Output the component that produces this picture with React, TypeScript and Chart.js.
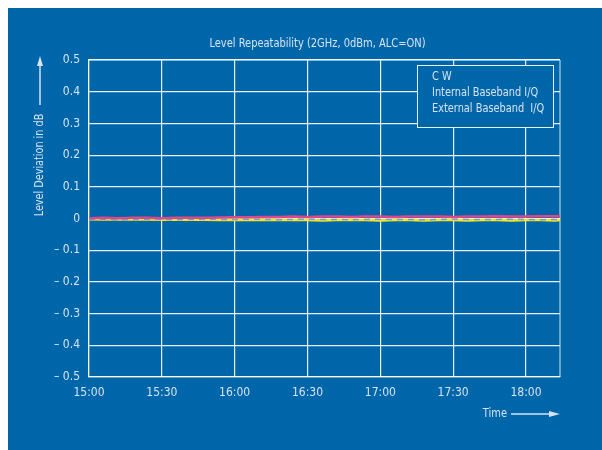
import React, { useEffect, useRef } from "react";
import { Chart, registerables } from "chart.js";

Chart.register(...registerables);

const TITLE = "Level Repeatability (2GHz, 0dBm, ALC=ON)";
const Y_TITLE = "Level Deviation in dB";
const X_TITLE = "Time";
const SERIES_LABELS = ["C W", "Internal Baseband I/Q", "External Baseband  I/Q"];

// minutes after 15:00
const TIMES = [0, 6, 12, 18, 24, 30, 36, 42, 48, 54, 60, 66, 72, 78, 84, 90, 96, 102, 108, 114, 120, 126, 132, 138, 144, 150, 156, 162, 168, 174, 180, 186, 192, 194];
const CW = [0.001, 0.002, 0.001, 0.002, 0.002, 0.001, 0.002, 0.002, 0.002, 0.003, 0.004, 0.004, 0.005, 0.005, 0.006, 0.005, 0.006, 0.006, 0.005, 0.006, 0.006, 0.005, 0.006, 0.006, 0.006, 0.005, 0.006, 0.006, 0.007, 0.006, 0.006, 0.007, 0.007, 0.007];
const INTERNAL = [-0.002, -0.003, -0.002, -0.003, -0.003, -0.004, -0.003, -0.004, -0.004, -0.005, -0.004, -0.005, -0.004, -0.005, -0.005, -0.005, -0.006, -0.005, -0.005, -0.005, -0.006, -0.005, -0.005, -0.006, -0.005, -0.005, -0.006, -0.005, -0.005, -0.006, -0.005, -0.005, -0.006, -0.005];
const EXTERNAL = [-0.003, -0.002, -0.004, -0.003, -0.002, -0.003, -0.004, -0.003, -0.002, -0.003, -0.003, -0.002, -0.003, -0.004, -0.003, -0.002, -0.003, -0.003, -0.004, -0.003, -0.002, -0.003, -0.003, -0.004, -0.003, -0.002, -0.003, -0.003, -0.003, -0.002, -0.003, -0.004, -0.003, -0.003];

const X_MIN = 0;
const X_MAX = 194;
const X_STEP = 30;
const START_HOUR = 15;
const Y_MIN = -0.5;
const Y_MAX = 0.5;
const Y_STEP = 0.1;

const BG = "#0066AA";
const TEXT = "#D6E3F0";
const GRID = "rgba(255,255,255,0.9)";
const FONT = "'Liberation Sans Narrow', 'DejaVu Sans Condensed', 'Roboto', sans-serif";

const fmtTime = (m: number) => {
  const h = START_HOUR + Math.floor(m / 60);
  const mm = Math.round(m % 60);
  return `${h}:${mm < 10 ? "0" + mm : mm}`;
};
const fmtY = (v: number) => {
  const r = Math.round(v * 10) / 10;
  if (Math.abs(r) < 1e-9) return "0";
  if (r < 0) return "\u2013 " + Math.abs(r).toFixed(1);
  return r.toFixed(1);
};

// draw text horizontally condensed
const narrowText = (ctx: any, text: string, x: number, y: number, sx: number) => {
  ctx.save();
  ctx.translate(x, y);
  ctx.scale(sx, 1);
  ctx.fillText(text, 0, 0);
  ctx.restore();
};

const decorPlugin = {
  id: "decor",
  afterDraw(chart: any) {
    const { ctx, chartArea } = chart;
    const { left, right } = chartArea;
    ctx.save();
    ctx.fillStyle = TEXT;
    ctx.strokeStyle = TEXT;
    // title
    ctx.font = `12.5px ${FONT}`;
    ctx.textAlign = "center";
    ctx.textBaseline = "middle";
    narrowText(ctx, TITLE, (left + right) / 2 - 7, 36, 0.88);

    // y title rotated + arrow
    const yx = 32;
    ctx.save();
    ctx.translate(yx, 157);
    ctx.rotate(-Math.PI / 2);
    ctx.textAlign = "center";
    ctx.textBaseline = "middle";
    narrowText(ctx, Y_TITLE, 0, 0, 0.86);
    ctx.restore();
    ctx.lineWidth = 1.5;
    ctx.beginPath();
    ctx.moveTo(yx, 97);
    ctx.lineTo(yx, 56);
    ctx.stroke();
    ctx.beginPath();
    ctx.moveTo(yx, 48);
    ctx.lineTo(yx - 3, 58);
    ctx.lineTo(yx + 3, 58);
    ctx.closePath();
    ctx.fill();

    // x title + arrow
    ctx.textAlign = "right";
    narrowText(ctx, X_TITLE, 499, 406, 0.88);
    ctx.beginPath();
    ctx.moveTo(503, 406);
    ctx.lineTo(544, 406);
    ctx.stroke();
    ctx.beginPath();
    ctx.moveTo(552, 406);
    ctx.lineTo(541, 403);
    ctx.lineTo(541, 409);
    ctx.closePath();
    ctx.fill();

    // legend box
    const bx = 409, by = 57, bw = 136, bh = 62;
    ctx.fillStyle = BG;
    ctx.fillRect(bx, by, bw, bh);
    ctx.strokeStyle = "rgba(255,255,255,0.9)";
    ctx.lineWidth = 1;
    ctx.strokeRect(bx + 0.5, by + 0.5, bw, bh);
    ctx.fillStyle = TEXT;
    ctx.font = `12.5px ${FONT}`;
    ctx.textAlign = "left";
    chart.data.datasets.forEach((ds: any, i: number) => {
      narrowText(ctx, ds.label, 424, 69 + i * 16, 0.87);
    });
    ctx.restore();
  },
};

export default function App() {
  const ref = useRef<HTMLCanvasElement>(null);
  useEffect(() => {
    if (!ref.current) return;
    const chart = new Chart(ref.current, {
      type: "line",
      data: {
        datasets: [
          {
            label: SERIES_LABELS[0],
            data: TIMES.map((t, i) => ({ x: t, y: CW[i] })),
            borderColor: "#E0468C",
            borderWidth: 2.5,
            pointRadius: 0,
            tension: 0,
            order: 1,
          },
          {
            label: SERIES_LABELS[1],
            data: TIMES.map((t, i) => ({ x: t, y: INTERNAL[i] })),
            borderColor: "#F6E32C",
            borderWidth: 2.5,
            pointRadius: 0,
            tension: 0,
            order: 3,
          },
          {
            label: SERIES_LABELS[2],
            data: TIMES.map((t, i) => ({ x: t, y: EXTERNAL[i] })),
            borderColor: "#6EA8A8",
            borderWidth: 1.5,
            borderDash: [6, 5],
            pointRadius: 0,
            tension: 0,
            order: 2,
          },
        ],
      },
      options: {
        responsive: false,
        animation: false,
        layout: { padding: { left: 0, right: 42, top: 52, bottom: 43 } },
        plugins: { legend: { display: false }, tooltip: { enabled: false }, title: { display: false } },
        scales: {
          x: {
            type: "linear",
            min: X_MIN,
            max: X_MAX,
            afterFit: (s: any) => { s.height = 30; },
            afterBuildTicks: (s: any) => {
              const t = [];
              for (let v = X_MIN; v <= X_MAX; v += X_STEP) t.push({ value: v });
              s.ticks = t;
            },
            ticks: {
              color: TEXT,
              font: { family: FONT, size: 12 },
              padding: 9,
              maxRotation: 0,
              autoSkip: false,
              callback: (v: any) => fmtTime(Number(v)),
            },
            grid: { color: GRID, lineWidth: 1.2, drawTicks: false },
            border: { color: GRID, width: 1.2 },
          },
          y: {
            min: Y_MIN,
            max: Y_MAX,
            afterFit: (s: any) => { s.width = 81; },
            ticks: {
              stepSize: Y_STEP,
              color: TEXT,
              font: { family: FONT, size: 12 },
              padding: 9,
              callback: (v: any) => fmtY(Number(v)),
            },
            grid: { color: GRID, lineWidth: 1.2, drawTicks: false },
            border: { color: GRID, width: 1.2 },
          },
        },
      },
      plugins: [
        {
          id: "rightBorder",
          beforeDatasetsDraw(chart: any) {
            const { ctx, chartArea } = chart;
            ctx.save();
            ctx.strokeStyle = "rgba(255,255,255,0.55)";
            ctx.lineWidth = 1.5;
            ctx.beginPath();
            ctx.moveTo(chartArea.right, chartArea.top);
            ctx.lineTo(chartArea.right, chartArea.bottom);
            ctx.moveTo(chartArea.left, chartArea.top);
            ctx.lineTo(chartArea.right, chartArea.top);
            ctx.stroke();
            ctx.restore();
          },
        },
        decorPlugin,
      ],
    } as any);
    return () => chart.destroy();
  }, []);
  return (
    <div style={{ position: "fixed", left: 8, top: 8, right: 0, bottom: 0, background: BG }}>
      <canvas ref={ref} width={594} height={442} style={{ display: "block" }} />
    </div>
  );
}
